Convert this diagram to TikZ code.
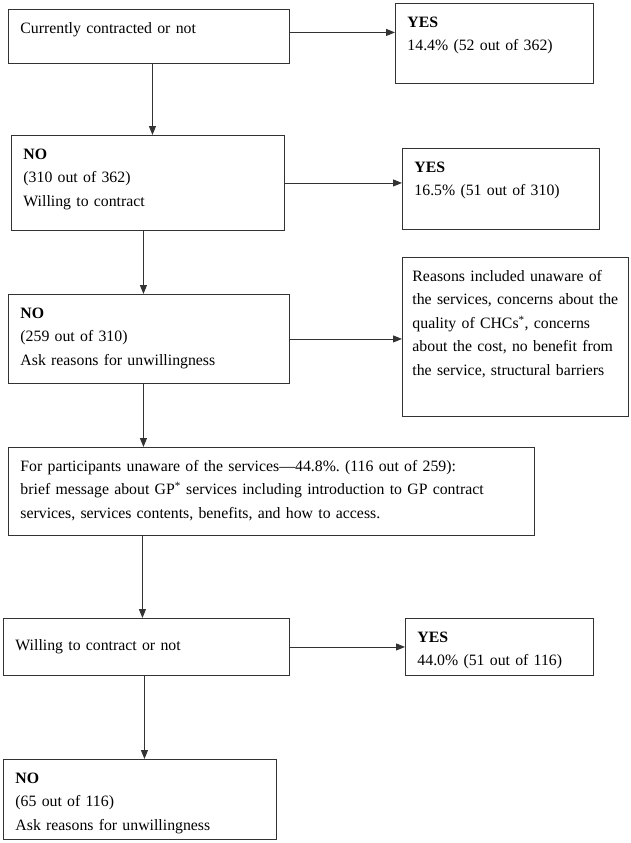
\documentclass[tikz,border=0pt]{standalone}
\usepackage{fontspec}
\setmainfont{Liberation Serif}
\usetikzlibrary{arrows.meta}
\frenchspacing

\begin{document}
\begin{tikzpicture}[x=1pt, y=-1pt, line width=0.9pt,
    box/.style={draw=black!80, anchor=north west, align=left, inner xsep=12pt, inner ysep=0pt,
        text height=24pt, font=\fontsize{15.8}{23.5}\selectfont},
    arr/.style={draw=black!80, -{Triangle[length=9pt, width=7pt]}}]
    \useasboundingbox (0,0) rectangle (631,843);
    % left column
    \node[box, text width=257pt, text depth=30pt] (A) at (8,9) {Currently contracted or not};
    \node[box, text width=249pt, text depth=71pt] (B) at (11,135) {\textbf{NO}\\(310 out of 362)\\Willing to contract};
    \node[box, text width=257pt, text depth=65pt] (C) at (8,294) {\textbf{NO}\\(259 out of 310)\\Ask reasons for unwillingness};
    \node[box, text width=502pt, text depth=64pt] (D) at (8,447) {For participants unaware of the services---44.8\%. (116 out of 259):\\brief message about GP\textsuperscript{*} services including introduction to GP contract\\services, services contents, benefits, and how to access.};
    \node[box, text width=262pt, text height=32pt, text depth=25pt] (E) at (3,618) {Willing to contract or not};
    \node[box, text width=249pt, text depth=56pt] (F) at (3,759) {\textbf{NO}\\(65 out of 116)\\Ask reasons for unwillingness};
    % right column
    \node[box, text width=174pt, text depth=56pt] (Y1) at (395,3) {\textbf{YES}\\14.4\% (52 out of 362)};
    \node[box, text width=173pt, text depth=57pt] (Y2) at (402,148) {\textbf{YES}\\16.5\% (51 out of 310)};
    \node[box, inner xsep=10pt, text width=206pt, text depth=135pt] (R) at (402,257) {Reasons included unaware of\\the services, concerns about the\\quality of CHCs\textsuperscript{*}, concerns\\about the cost, no benefit from\\the service, structural barriers};
    \node[box, text width=164pt, text depth=33pt] (Y3) at (405,618) {\textbf{YES}\\44.0\% (51 out of 116)};

    \draw[arr] ([yshift=4pt]A.east) -- ([yshift=4pt]A.east -| Y1.west);
    \draw[arr] (B.east) -- (B.east -| Y2.west);
    \draw[arr] (C.east) -- (C.east -| R.west);
    \draw[arr] (E.east) -- (E.east -| Y3.west);
    \draw[arr] ([xshift=3.5pt]A.south) -- ([xshift=3.5pt]A.south |- B.north);
    \draw[arr] ([xshift=-4.5pt]B.south) -- ([xshift=-4.5pt]B.south |- C.north);
    \draw[arr] ([xshift=-5.5pt]C.south) -- ([xshift=-5.5pt]C.south |- D.north);
    \draw[arr] ([xshift=-4pt]E.north |- D.south) -- ([xshift=-4pt]E.north);
    \draw[arr] ([xshift=-2pt]E.south) -- ([xshift=-2pt]E.south |- F.north);
\end{tikzpicture}
\end{document}
